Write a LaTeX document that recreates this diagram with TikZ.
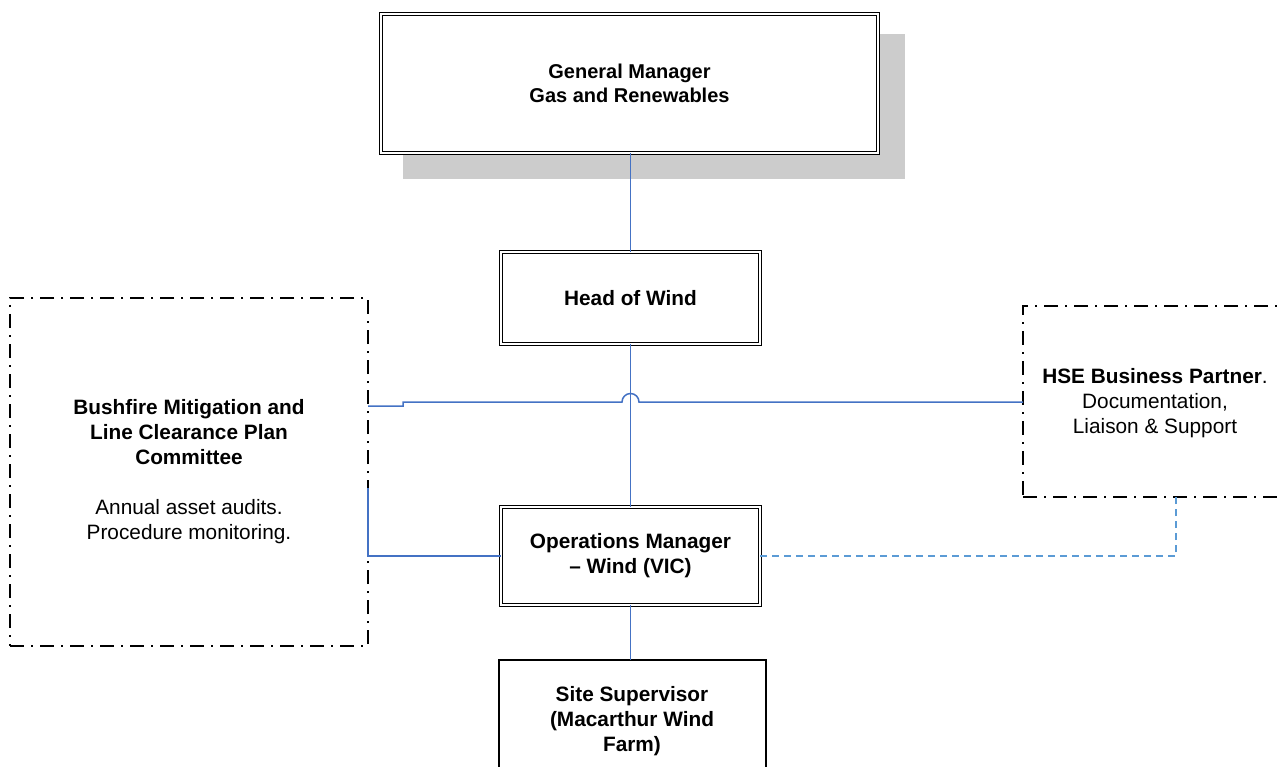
\documentclass[tikz,border=0pt]{standalone}
\usepackage{fontspec}
\setmainfont{Liberation Sans}
\definecolor{connblue}{HTML}{4472C4}
\definecolor{dashblue}{HTML}{5B9BD5}
\definecolor{shadowgray}{HTML}{CCCCCC}
\begin{document}
\begin{tikzpicture}[x=1pt,y=-1pt,
  dblbox/.style={draw=black, double=white, double distance=2pt, line width=1.2pt, inner sep=0pt, outer sep=0pt, align=center, font=\fontsize{20.8}{25}\selectfont\bfseries},
  plainbox/.style={draw=black, line width=1.8pt, inner sep=0pt, outer sep=0pt},
  dashdotbox/.style={draw=black, line width=1.7pt, dash pattern=on 14pt off 7pt on 2pt off 7pt, inner sep=0pt, outer sep=0pt, align=center, font=\fontsize{20.8}{25}\selectfont},
  conn/.style={draw=connblue, line width=1.5pt},
  dconn/.style={draw=dashblue, line width=1.5pt, dash pattern=on 7pt off 5pt},
  txt/.style={align=center, inner sep=0pt, font=\fontsize{20.8}{25}\selectfont\bfseries}
]
\useasboundingbox (0,0) rectangle (1277,767);
\clip (0,0) rectangle (1277,767);
% shadow
\fill[shadowgray] (403,34) rectangle (905,179);
% boxes
\node[dblbox, fill=white, minimum width=497pt, minimum height=139pt, font=\fontsize{20}{24}\selectfont\bfseries] (gm) at (629.5,83.5) {General Manager\\Gas and Renewables};
\node[dblbox, minimum width=259pt, minimum height=92pt] (how) at (630.5,298) {Head of Wind};
\node[dblbox, minimum width=259pt, minimum height=98pt] (ops) at (630.5,556) {Operations Manager\\ -- Wind (VIC)};
\node[plainbox, minimum width=267pt, minimum height=140pt] (site) at (632.5,730) {};
\node[txt] (sitetext) at (632,721) {Site Supervisor\\(Macarthur Wind\\Farm)};
\node[dashdotbox, minimum width=358pt, minimum height=348pt] (bush) at (189,472) {\textbf{Bushfire Mitigation and}\\\textbf{Line Clearance Plan}\\\textbf{Committee}\\[25pt]Annual asset audits.\\Procedure monitoring.};
\node[dashdotbox, minimum width=267pt, minimum height=191pt] (hse) at (1156.5,401.5) {};
\node[align=center, inner sep=0pt, font=\fontsize{20.8}{25}\selectfont] (hsetext) at (1155,403) {\textbf{HSE Business Partner}.\\Documentation,\\Liaison \& Support};
% connectors
\draw[conn] (how.north) -- (how.north |- gm.south);
\draw[conn] (how.south) -- (ops.north);
\draw[conn] (ops.south) -- (ops.south |- site.north);
\draw[conn] (bush.east |- 0,406) -- (403,406) -- (403,402) -- (622,402) arc (180:360:8.5) -- (hse.west |- 0,402);
\draw[conn] (bush.east |- 0,488) -- (bush.east |- ops.west) -- (ops.west);
\draw[dconn] (ops.east) -| ([xshift=19.5pt]hse.south);
\end{tikzpicture}
\end{document}
